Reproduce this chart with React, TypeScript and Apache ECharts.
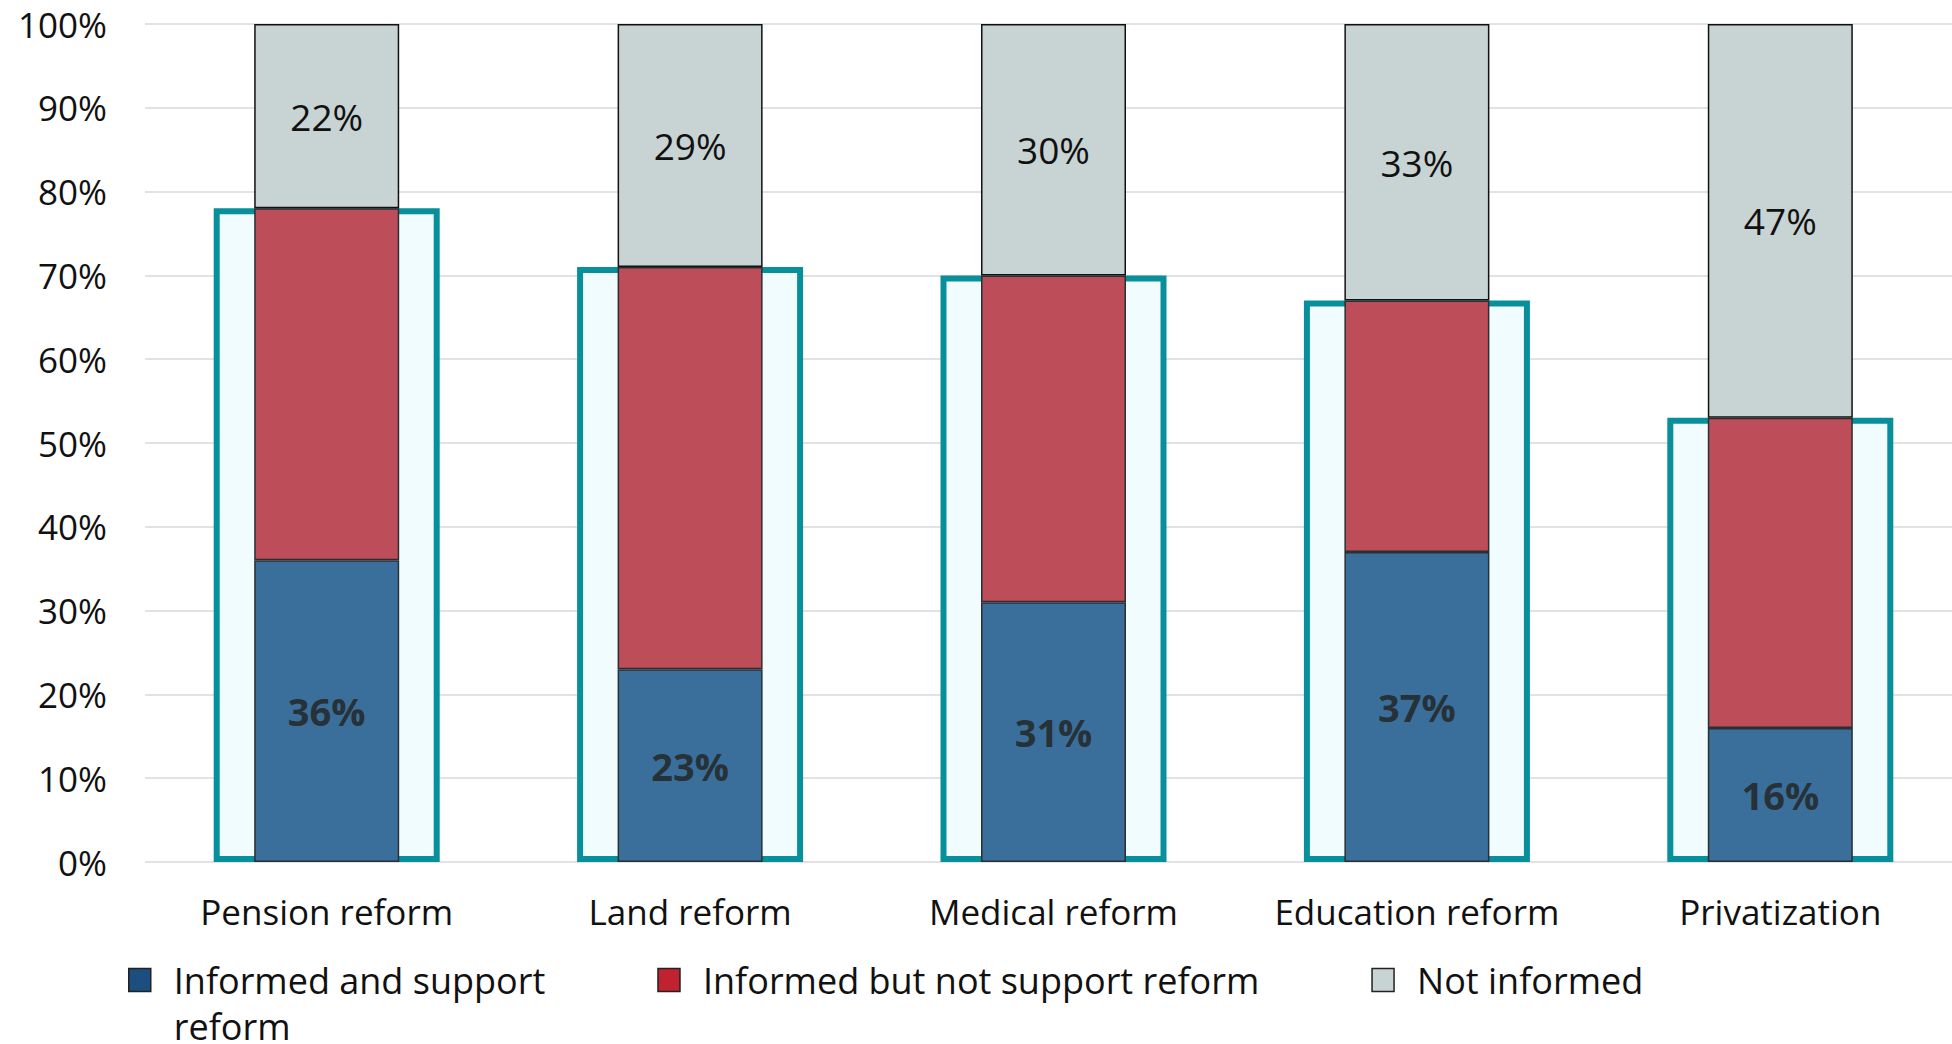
import React, { useEffect, useRef } from "react";
import * as echarts from "echarts";

const categories = ["Pension reform", "Land reform", "Medical reform", "Education reform", "Privatization"];
const supportValues = [36, 23, 31, 37, 16];
const notSupportValues = [42, 48, 39, 30, 37];
const notInformedValues = [22, 29, 30, 33, 47];
const yTicks = [0, 10, 20, 30, 40, 50, 60, 70, 80, 90, 100];
const seriesNames = ["Informed and support reform", "Informed but not support reform", "Not informed"];

const FONT = "'Open Sans', 'Noto Sans', sans-serif";

export default function App() {
  const ref = useRef<HTMLDivElement>(null);
  useEffect(() => {
    if (!ref.current) return;
    const chart = echarts.init(ref.current, undefined, { renderer: "svg" });
    const informedTotals = supportValues.map((v, i) => v + notSupportValues[i]);
    chart.setOption({
      animation: false,
      backgroundColor: "#ffffff",
      textStyle: { fontFamily: FONT },
      grid: { left: 145, width: 1817, top: 24, bottom: 182, outerBoundsMode: "none", containLabel: false },
      legend: {
        left: 128,
        top: 911,
        padding: 0,
        itemGap: 112,
        itemWidth: 22,
        itemHeight: 23,
        icon: "rect",
        selectedMode: false,
        formatter: (name: string) =>
          name === seriesNames[0] ? "\nInformed and support\nreform" : name,
        textStyle: {
          fontFamily: FONT,
          fontSize: 36,
          color: "#111111",
          lineHeight: 46,
          padding: [0, 0, 0, 18],
        },
        data: [
          { name: seriesNames[0], itemStyle: { color: "#1c4f7f", borderColor: "#222", borderWidth: 1.5 } },
          { name: seriesNames[1], itemStyle: { color: "#c0222f", borderColor: "#222", borderWidth: 1.5 } },
          { name: seriesNames[2], itemStyle: { color: "#c8d3d3", borderColor: "#222", borderWidth: 1.5 } },
        ],
      },
      xAxis: [
        {
          type: "category",
          data: categories,
          axisLine: { show: false },
          axisTick: { show: false },
          axisLabel: { fontFamily: FONT, fontSize: 35, color: "#111111", margin: 32, interval: 0, hideOverlap: false },
        },
        {
          type: "category",
          data: categories,
          show: false,
          gridIndex: 0,
        },
      ],
      yAxis: {
        type: "value",
        min: 0,
        max: 100,
        interval: 10,
        axisLine: { show: false },
        axisTick: { show: false },
        splitLine: { lineStyle: { color: "#d9d9d9", width: 1.5 } },
        axisLabel: {
          fontFamily: FONT,
          fontSize: 35,
          color: "#111111",
          margin: 38,
          formatter: (v: number) => (yTicks.includes(v) ? v + "%" : ""),
        },
      },
      series: [
        {
          name: "informed box",
          type: "bar",
          xAxisIndex: 1,
          barWidth: 226,
          z: 1,
          silent: true,
          data: informedTotals,
          itemStyle: { color: "#f0fcfe", borderColor: "#07909b", borderWidth: 6 },
        },
        {
          name: seriesNames[0],
          type: "bar",
          stack: "total",
          barWidth: 145,
          z: 3,
          data: supportValues,
          itemStyle: { color: "#3b6f9b", borderColor: "#2a2f33", borderWidth: 1.5 },
          label: {
            show: true,
            position: "inside",
            formatter: "{c}%",
            fontFamily: FONT,
            fontSize: 38,
            fontWeight: "bold",
            color: "#263238",
          },
        },
        {
          name: seriesNames[1],
          type: "bar",
          stack: "total",
          barWidth: 145,
          z: 3,
          data: notSupportValues,
          itemStyle: { color: "#bc4d59", borderColor: "#2a2f33", borderWidth: 1.5 },
        },
        {
          name: seriesNames[2],
          type: "bar",
          stack: "total",
          barWidth: 145,
          z: 2,
          data: notInformedValues,
          itemStyle: { color: "#c8d3d3", borderColor: "#111111", borderWidth: 1.5 },
          label: {
            show: true,
            position: "inside",
            formatter: "{c}%",
            fontFamily: FONT,
            fontSize: 37,
            color: "#111111",
          },
        },
      ],
    });
    return () => chart.dispose();
  }, []);
  return (
    <div
      ref={ref}
      style={{ position: "fixed", left: 0, top: 0, width: "1952px", height: "1044px" }}
    />
  );
}
